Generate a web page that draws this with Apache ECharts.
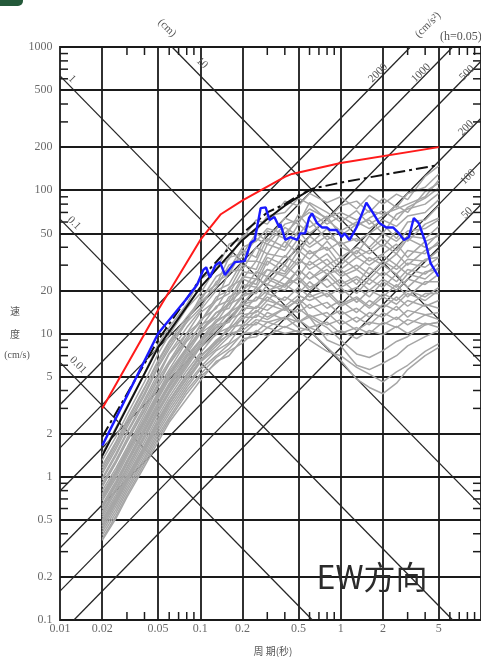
<!DOCTYPE html>
<html>
<head>
<meta charset="utf-8">
<script src="https://cdn.jsdelivr.net/npm/echarts@6/dist/echarts.min.js"></script>
<style>
    html, body { margin: 0; padding: 0; background: #fff; }
    #main { width: 481px; height: 658px; }
</style>
</head>
<body>
<div id="main"></div>
<script>
// 周期(秒) —— 灰色曲线共用
var periods = [0.02, 0.025, 0.03, 0.04, 0.05, 0.06, 0.08, 0.1, 0.13, 0.16, 0.2, 0.25, 0.3, 0.4, 0.5, 0.6, 0.8, 1, 1.3, 1.6, 2, 2.5, 3, 4, 5];

// 灰色:各观测波形的速度反应谱
var grayCurves = [
    [1.45, 2.2, 3.1, 5.3, 8.4, 11, 16, 24, 28, 42, 46, 62, 58, 84, 78, 95, 82, 90, 74, 92, 80, 94, 86, 125, 148],
    [1.3, 1.9, 2.7, 4.6, 7.2, 9.8, 15, 19, 29, 33, 48, 52, 66, 70, 88, 80, 62, 78, 84, 70, 88, 76, 95, 105, 130],
    [1.15, 1.7, 2.4, 4.1, 6.3, 8.6, 12, 18, 22, 34, 36, 50, 44, 64, 58, 82, 70, 60, 72, 58, 66, 78, 70, 98, 112],
    [1.05, 1.55, 2.2, 3.7, 5.8, 7.8, 12, 15, 23, 26, 38, 34, 52, 46, 68, 55, 66, 48, 58, 62, 50, 68, 74, 80, 95],
    [0.95, 1.4, 2.0, 3.3, 5.0, 7.2, 10, 14, 17, 27, 28, 40, 36, 55, 48, 62, 45, 52, 44, 50, 58, 46, 60, 62, 78],
    [0.9, 1.3, 1.85, 3.1, 4.8, 6.4, 10, 12, 18, 20, 30, 28, 42, 38, 52, 42, 54, 40, 36, 48, 40, 52, 44, 58, 64],
    [0.85, 1.25, 1.75, 2.9, 4.4, 6.1, 9, 12.5, 15, 21, 24, 32, 30, 44, 36, 48, 38, 44, 34, 38, 46, 38, 48, 46, 56],
    [0.8, 1.15, 1.6, 2.75, 4.2, 5.6, 8.8, 11, 15.5, 17, 25, 24, 34, 30, 42, 36, 40, 30, 38, 32, 36, 42, 34, 44, 48],
    [0.76, 1.1, 1.55, 2.6, 3.9, 5.4, 8, 11.5, 13, 18, 20, 27, 25, 35, 30, 38, 30, 34, 28, 34, 30, 36, 30, 38, 42],
    [0.72, 1.05, 1.48, 2.45, 3.7, 5.1, 7.8, 10, 14, 15, 22, 21, 28, 26, 34, 28, 33, 26, 30, 26, 32, 28, 33, 32, 38],
    [0.68, 0.98, 1.38, 2.3, 3.5, 4.8, 7.2, 10, 12, 16, 18, 24, 22, 30, 25, 32, 26, 28, 22, 29, 25, 30, 26, 33, 34],
    [0.64, 0.93, 1.3, 2.2, 3.3, 4.5, 7, 9, 12.5, 13.5, 19, 19, 25, 22, 28, 24, 28, 22, 25, 22, 27, 23, 28, 26, 31],
    [0.6, 0.87, 1.23, 2.05, 3.1, 4.3, 6.5, 9, 11, 14, 16, 21, 19, 25, 22, 27, 21, 24, 19, 24, 21, 26, 21, 27, 28],
    [0.57, 0.83, 1.17, 1.95, 2.95, 4.0, 6.2, 8.2, 11, 12, 17, 17, 22, 20, 25, 21, 24, 19, 21, 18, 23, 20, 24, 22, 26],
    [0.54, 0.79, 1.1, 1.85, 2.8, 3.8, 5.8, 8, 9.8, 12.5, 14, 18, 17, 22, 19, 23, 18, 21, 16.5, 20, 18, 22, 18, 23, 23],
    [0.52, 0.75, 1.05, 1.75, 2.65, 3.6, 5.5, 7.3, 10, 11, 15, 15, 19, 17, 21, 18, 20, 16, 18, 15.5, 19, 17, 20, 18, 21],
    [0.49, 0.71, 1.0, 1.65, 2.5, 3.4, 5.2, 7, 8.8, 11, 12.5, 15.5, 14.5, 18, 16, 19, 15, 17, 14, 17, 15, 18, 15.5, 19, 19],
    [0.47, 0.68, 0.95, 1.57, 2.4, 3.2, 4.9, 6.5, 8.6, 9.8, 13, 13, 16, 14.5, 17.5, 15, 16.5, 13.5, 15, 13, 16, 14.5, 17, 15.5, 17],
    [0.45, 0.65, 0.91, 1.5, 2.25, 3.05, 4.6, 6.3, 7.8, 9.5, 11, 13.5, 12.5, 15, 14, 16, 13, 14.5, 12, 14, 13, 15.5, 13, 16, 15],
    [0.43, 0.62, 0.87, 1.43, 2.15, 2.9, 4.4, 5.8, 7.6, 8.6, 11.5, 11.5, 14, 12.5, 15, 13, 14, 11.5, 13, 11.5, 14, 12.5, 14.5, 13.5, 14],
    [0.41, 0.59, 0.83, 1.36, 2.05, 2.75, 4.2, 5.6, 7, 8.4, 9.8, 12, 11, 13, 12, 13.5, 11.5, 12.5, 10.5, 12, 11.5, 13, 11.5, 13.5, 12.5],
    [0.39, 0.56, 0.79, 1.3, 1.95, 2.6, 4, 5.2, 6.8, 7.8, 10, 10.2, 12, 11, 12.5, 11, 12, 10, 11, 10, 12, 11, 12.5, 11.5, 12],
    [0.37, 0.53, 0.75, 1.24, 1.85, 2.5, 3.8, 5, 6.2, 7.5, 8.6, 10.5, 9.6, 11.2, 10.2, 11, 9.8, 10.5, 9.2, 10.5, 9.8, 11.2, 10, 11.8, 11],
    [0.36, 0.51, 0.72, 1.18, 1.75, 2.4, 3.5, 4.7, 6.4, 7, 9.2, 9.5, 11, 10, 10.5, 9, 7.5, 7, 5.8, 5.2, 4.6, 5.4, 6, 7.5, 8.5],
    [0.5, 0.72, 1.0, 1.65, 2.5, 3.4, 5.1, 7, 8.5, 11, 11.5, 14.5, 13, 15, 12, 13, 9, 8.2, 6, 5.6, 6.2, 7, 8.2, 9.5, 10.5],
    [0.6, 0.88, 1.25, 2.1, 3.1, 4.2, 6.4, 8.5, 11.5, 12, 16, 15, 18, 15, 17, 13, 11, 9, 7.2, 6.8, 7.6, 8.8, 9.5, 11.5, 12],
    [0.45, 0.66, 0.93, 1.55, 2.3, 3.2, 4.8, 6.4, 8.2, 10, 10.5, 12.5, 12, 13, 11, 10.5, 8, 6.5, 4.8, 4.2, 3.8, 4.5, 5.6, 7, 8],
    [0.98, 1.45, 2.05, 3.45, 5.3, 7.3, 11, 14.5, 20, 22, 32, 32, 46, 40, 58, 50, 62, 52, 60, 54, 62, 56, 66, 70, 86],
    [0.74, 1.07, 1.5, 2.5, 3.8, 5.2, 7.8, 10.5, 14, 16, 24, 22, 32, 27, 38, 33, 44, 34, 40, 36, 42, 36, 46, 40, 50],
    [0.62, 0.9, 1.27, 2.12, 3.2, 4.4, 6.8, 8.8, 12, 14, 18, 20, 24, 21, 28, 24, 30, 25, 28, 24, 30, 26, 31, 29, 34],
    [1.2, 1.75, 2.5, 4.2, 6.5, 8.8, 13, 17, 25, 28, 40, 44, 54, 50, 62, 70, 58, 66, 56, 64, 72, 62, 76, 88, 104],
    [0.86, 1.26, 1.78, 2.95, 4.5, 6.2, 9.4, 12, 17, 19, 27, 26, 36, 34, 46, 40, 48, 42, 46, 40, 50, 44, 52, 54, 62],
    [0.7, 1.02, 1.44, 2.4, 3.6, 5, 7.5, 10.5, 13, 16.5, 20, 24, 28, 25, 32, 30, 36, 28, 34, 30, 35, 30, 38, 36, 44],
    [0.56, 0.82, 1.15, 1.92, 2.9, 3.95, 6, 8.2, 10.5, 13, 16, 17, 20, 22, 24, 20, 26, 21, 24, 20, 24, 21, 26, 24, 29],
    [0.48, 0.7, 0.98, 1.62, 2.45, 3.35, 5.1, 6.8, 9, 10.5, 13.5, 14, 17, 15.5, 18.5, 17, 19, 15.5, 17.5, 15, 18, 16, 19, 17, 20],
    [1.1, 1.62, 2.3, 3.85, 6, 8.2, 12.5, 16.5, 21, 30, 34, 46, 42, 58, 62, 74, 64, 70, 62, 72, 68, 74, 80, 90, 118]
];

// 红线
var redT = [0.02, 0.05, 0.1, 0.14, 0.2, 0.4, 0.45, 1, 5];
var redV = [3.0, 14.6, 45, 68, 85, 124, 130, 155, 200];

// 黑实线
var blackT = [0.02, 0.05, 0.1, 0.2, 0.3, 0.4, 0.5, 0.6, 5];
var blackV = [1.4, 8, 21, 45, 63, 78, 90, 100, 100];

// 黑点划线
var dashT = [0.02, 0.05, 0.1, 0.2, 0.3, 0.4, 0.5, 0.64, 1, 2, 5];
var dashV = [1.9, 9, 24, 50, 70, 80, 92, 103, 113, 128, 150];

// 蓝线
var blueT = [0.02, 0.05, 0.078, 0.095, 0.105, 0.11, 0.117, 0.128, 0.138, 0.15, 0.176, 0.207, 0.229, 0.244, 0.269, 0.292, 0.311, 0.337, 0.366,
    0.372, 0.403, 0.437, 0.49, 0.514, 0.558, 0.595, 0.625, 0.678, 0.735, 0.797, 0.837, 0.937, 1.016, 1.067, 1.157, 1.297, 1.524, 1.707, 1.883,
    2.109, 2.362, 2.603, 2.823, 3.06, 3.32, 3.6, 4.03, 4.37, 4.98];
var blueV = [1.65, 10, 17, 22, 27.8, 29, 24.6, 30, 31.5, 25.6, 31.5, 32, 43, 45, 75, 76, 62, 65, 55,
    58, 45, 47, 45, 50, 50, 64, 69, 59, 55, 55, 52.8, 52.8, 47.2, 50, 45, 55, 82, 69, 59,
    55, 55, 50, 45, 47, 64, 59, 43, 31, 25];

// 格子线与刻度
var gridX = [0.02, 0.05, 0.1, 0.2, 0.5, 1, 2, 5];
var gridY = [0.2, 0.5, 1, 2, 5, 10, 20, 50, 100, 200, 500];
var minorX = [0.03, 0.04, 0.06, 0.07, 0.08, 0.09, 0.3, 0.4, 0.6, 0.7, 0.8, 0.9, 3, 4, 6, 7, 8, 9];
var minorY = [0.3, 0.4, 0.6, 0.7, 0.8, 0.9, 3, 4, 6, 7, 8, 9, 30, 40, 60, 70, 80, 90, 300, 400, 600, 700, 800, 900];
var xLabels = ['0.01', '0.02', '0.05', '0.1', '0.2', '0.5', '1', '2', '5'];
var xLabelVals = [0.01, 0.02, 0.05, 0.1, 0.2, 0.5, 1, 2, 5];
var yLabels = ['0.1', '0.2', '0.5', '1', '2', '5', '10', '20', '50', '100', '200', '500', '1000'];
var yLabelVals = [0.1, 0.2, 0.5, 1, 2, 5, 10, 20, 50, 100, 200, 500, 1000];

// 三联图斜线:变位(cm) 与 加速度(cm/s²)
var dispLevels = [0.01, 0.1, 1, 10];
var accLevels = [50, 100, 200, 500, 1000, 2000];

var xMin = 0.01, xMax = 10, yMin = 0.1, yMax = 1000;

(function () {
    var myChart = echarts.init(document.getElementById("main"));

    function pairs(ts, vs) {
        return ts.map(function (t, i) { return [t, vs[i]]; });
    }

    var gridLines = [];
    gridX.forEach(function (t) { gridLines.push({ coords: [[t, yMin], [t, yMax]] }); });
    gridY.forEach(function (v) { gridLines.push({ coords: [[xMin, v], [xMax, v]] }); });

    var diagLines = [];
    dispLevels.forEach(function (d) {
        var k = 2 * Math.PI * d; // V = 2πD/T
        var t1 = Math.max(xMin, k / yMax), t2 = Math.min(xMax, k / yMin);
        diagLines.push({ coords: [[t1, k / t1], [t2, k / t2]] });
    });
    accLevels.forEach(function (a) {
        var c = a / (2 * Math.PI); // V = AT/2π
        var t1 = Math.max(xMin, yMin / c), t2 = Math.min(xMax, yMax / c);
        diagLines.push({ coords: [[t1, c * t1], [t2, c * t2]] });
    });

    var series = [
        {
            type: 'lines', coordinateSystem: 'cartesian2d', polyline: false, silent: true,
            lineStyle: { color: '#1a1a1a', width: 1.8, opacity: 1 },
            data: gridLines, z: 1
        },
        {
            type: 'lines', coordinateSystem: 'cartesian2d', polyline: false, silent: true,
            lineStyle: { color: '#262626', width: 1.3, opacity: 1 },
            data: diagLines, z: 1
        }
    ];

    grayCurves.forEach(function (vals) {
        series.push({
            type: 'line', data: pairs(periods, vals), showSymbol: false, silent: true,
            lineStyle: { color: '#a6a6a6', width: 1.5 }, z: 2
        });
    });

    series.push({
        type: 'line', data: pairs(blackT, blackV), showSymbol: false,
        lineStyle: { color: '#111', width: 2 }, z: 3
    });
    series.push({
        type: 'line', data: pairs(dashT, dashV), showSymbol: false,
        lineStyle: { color: '#111', width: 2, type: [12, 4, 3, 4] }, z: 3
    });
    series.push({
        type: 'line', data: pairs(blueT, blueV), showSymbol: false,
        lineStyle: { color: '#1a1aff', width: 2.4 }, z: 4
    });
    series.push({
        type: 'line', data: pairs(redT, redV), showSymbol: false,
        lineStyle: { color: '#ff1a1a', width: 2 }, z: 4
    });

    // 刻度文字
    var labelFont = { fontFamily: 'Liberation Serif', fontSize: 12, color: '#444' };
    series.push({
        type: 'scatter', symbolSize: 1, itemStyle: { color: 'transparent' }, silent: true,
        data: xLabelVals.map(function (t) { return [t, yMin]; }),
        label: Object.assign({
            show: true, position: 'bottom', distance: 2,
            formatter: function (p) { return xLabels[p.dataIndex]; }
        }, labelFont), z: 5
    });
    series.push({
        type: 'scatter', symbolSize: 1, itemStyle: { color: 'transparent' }, silent: true,
        data: yLabelVals.map(function (v) { return [xMin, v]; }),
        label: Object.assign({
            show: true, position: 'left', distance: 7,
            formatter: function (p) { return yLabels[p.dataIndex]; }
        }, labelFont), z: 5
    });

    var noAxis = {
        axisLabel: { show: false }, axisTick: { show: false },
        splitLine: { show: false }, axisLine: { show: false }
    };

    var option = {
        animation: false,
        backgroundColor: '#fff',
        grid: {
            left: 60, top: 47, right: -5, bottom: 38,
            show: true, borderColor: '#1a1a1a', borderWidth: 1.8
        },
        xAxis: Object.assign({ type: 'log', logBase: 10, min: xMin, max: xMax }, noAxis),
        yAxis: Object.assign({ type: 'log', logBase: 10, min: yMin, max: yMax }, noAxis),
        series: series
    };
    myChart.setOption(option);

    // 细刻度(上下左右,朝内)
    var g = [];
    var tick = 8;
    function px(p) { return myChart.convertToPixel({ gridIndex: 0 }, p); }
    minorX.forEach(function (t) {
        var top = px([t, yMax]), bot = px([t, yMin]);
        g.push({ type: 'line', shape: { x1: top[0], y1: top[1], x2: top[0], y2: top[1] + tick }, style: { stroke: '#1c1c1c', lineWidth: 1.5 } });
        g.push({ type: 'line', shape: { x1: bot[0], y1: bot[1], x2: bot[0], y2: bot[1] - tick }, style: { stroke: '#1c1c1c', lineWidth: 1.5 } });
    });
    minorY.forEach(function (v) {
        var l = px([xMin, v]), r = px([xMax, v]);
        g.push({ type: 'line', shape: { x1: l[0], y1: l[1], x2: l[0] + tick, y2: l[1] }, style: { stroke: '#1c1c1c', lineWidth: 1.5 } });
        g.push({ type: 'line', shape: { x1: r[0], y1: r[1], x2: r[0] - tick, y2: r[1] }, style: { stroke: '#1c1c1c', lineWidth: 1.5 } });
    });

    var small = { fontFamily: 'Liberation Serif', fontSize: 11, fill: '#555', align: 'center', verticalAlign: 'middle' };
    function txt(s, x, y, rot, st) {
        return {
            type: 'text', x: x, y: y, rotation: rot || 0, z: 10,
            style: Object.assign({ text: s }, small, st || {})
        };
    }
    var dn = -Math.PI / 4, up = Math.PI / 4;
    g.push(txt('(cm)', 167, 28, dn));
    g.push(txt('10', 202, 63, dn));
    g.push(txt('1', 72, 79, dn));
    g.push(txt('0.1', 74, 223, dn));
    g.push(txt('0.01', 78, 365, dn));
    g.push(txt('(cm/s²)', 428, 25, up));
    g.push(txt('2000', 378, 73, up));
    g.push(txt('1000', 421, 73, up));
    g.push(txt('500', 467, 73, up));
    g.push(txt('200', 466, 128, up));
    g.push(txt('100', 468, 177, up));
    g.push(txt('50', 467, 213, up));
    g.push(txt('(h=0.05)', 440, 37, 0, { align: 'left', fontSize: 12 }));
    g.push(txt('速', 15, 311, 0, { fontFamily: 'Noto Sans CJK SC', fontSize: 10 }));
    g.push(txt('度', 15, 334, 0, { fontFamily: 'Noto Sans CJK SC', fontSize: 10 }));
    g.push(txt('(cm/s)', 17, 355, 0, { fontSize: 10 }));
    g.push(txt('周 期(秒)', 273, 651, 0, { fontFamily: 'Noto Sans CJK SC', fontSize: 10 }));
    g.push(txt('EW方向', 372, 577, 0, { fontFamily: 'Noto Sans CJK SC', fontSize: 32, fill: '#2b2b2b' }));
    g.push({ type: 'rect', shape: { x: -6, y: -8, width: 29, height: 14, r: 5 }, style: { fill: '#24593a' }, z: 10 });

    myChart.setOption({ graphic: g });

    window.addEventListener("resize", function () {
        myChart.resize();
    });
})();
</script>
</body>
</html>
